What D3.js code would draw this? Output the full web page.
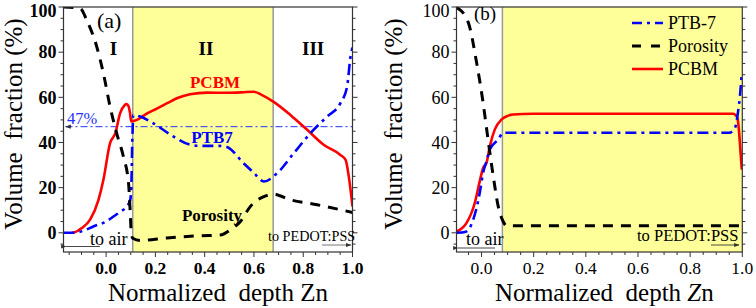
<!DOCTYPE html>
<html><head><meta charset="utf-8">
<script src="https://cdn.jsdelivr.net/npm/d3@7"></script>
<style>html,body{margin:0;padding:0;background:#fff}svg{display:block}
svg text{font-family:"Liberation Serif","Times New Roman",Times,"DejaVu Serif",serif;}</style>
</head><body>
<svg id="c" width="756" height="308"></svg>
<script>
// ---------- data ----------
const yTicks = [0, 20, 40, 60, 80, 100];
const xTicks = [0.0, 0.2, 0.4, 0.6, 0.8, 1.0];
const bandA = [0.108, 0.678];
const bandB = [0.08, 1.0];
const regionLabels = ["I", "II", "III"];
const regionZ = [0.03, 0.405, 0.84];

const aPcbmZ = [-0.14,-0.126,-0.1,-0.065,-0.031,-0.011,0.016,0.037,0.057,0.075,0.083,0.091,0.097,0.102,0.125,0.16,0.206,0.25,0.287,0.341,0.409,0.49,0.55,0.599,0.633,0.68,0.748,0.816,0.883,0.951,0.972,0.985,1.0];
const aPcbmV = [0,0.3,2,5.8,14.6,23.5,39.7,44,53,56.5,57,56,53,49.3,50,52.5,55,57.5,59.6,61.4,62.1,62,62.2,62.5,61,58,52.2,45.6,39,34.5,32.3,24.9,11.6];

const aPtbZ = [-0.173,-0.126,-0.09,-0.052,0.0,0.03,0.06,0.084,0.098,0.102,0.104,0.106,0.108,0.11,0.138,0.192,0.274,0.341,0.38,0.409,0.46,0.49,0.558,0.6,0.64,0.694,0.762,0.829,0.897,0.951,0.978,0.992,1.0];
const aPtbV = [0,0,1,2.8,5,7.2,9.5,11.6,14.6,20,28,40,47,52.2,51.5,48.5,42.6,39,38.5,38.5,38.5,38,30.8,26.5,22.7,26.4,35.3,44.1,51.5,57.4,64.7,78,82];

const aPorZ = [-0.173,-0.106,-0.078,-0.038,-0.011,0.016,0.043,0.07,0.091,0.098,0.102,0.108,0.138,0.247,0.382,0.463,0.504,0.545,0.585,0.64,0.68,0.748,0.857,1.0];
const aPorV = [100,99.4,94,82.4,70.6,55.9,44,33.8,22,8.7,0,-2.4,-3.4,-2.3,-1.3,-1,1.3,5,11.6,16,17,14.6,12.4,9];

const bPcbmZ = [-0.096,-0.075,-0.058,-0.026,-0.007,0.006,0.019,0.032,0.051,0.077,0.1,0.121,0.198,0.5,0.9,0.965,0.975,0.981,0.988,0.993,0.998];
const bPcbmV = [0.6,2,4.3,13.2,22.8,28.7,31,38.4,45.8,50.2,51.8,52.4,52.7,52.7,52.7,52.7,52,51,44.3,36,28];

const bPtbZ = [-0.096,-0.06,-0.032,-0.007,0.006,0.02,0.032,0.064,0.083,0.1,0.5,0.95,0.972,0.985,0.991,0.998];
const bPtbV = [0,0.5,5.8,17.6,26.5,32,37,41.3,44.3,44.3,44.3,44.3,46.5,54.8,60.6,71];

const bPorZ = [-0.096,-0.051,-0.019,0.006,0.025,0.045,0.064,0.083,0.096,0.12,1.0];
const bPorV = [99.9,93.2,75.4,57.6,41.3,25,11.7,5,3.1,3.1,3.1];

const refLevel = 47;
const legendNames = ["PTB-7", "Porosity", "PCBM"];

// ---------- drawing ----------
const svg = d3.select("#c");
const defs = svg.append("defs");
["al","ar"].forEach((id,i)=>{
  defs.append("marker").attr("id",id).attr("viewBox","0 0 10 10").attr("refX",i?9:1).attr("refY",5)
    .attr("markerWidth",6).attr("markerHeight",6).attr("orient","auto")
    .append("path").attr("d", i? "M0,1.5 L10,5 L0,8.5 Z" : "M10,1.5 L0,5 L10,8.5 Z").attr("fill","#333");
});

const styles = {
  ptb: {stroke:"#0000ff", w:2.6, dash:"11,5,3,5"},
  por: {stroke:"#000", w:3, dash:"10,8"},
  pcbm:{stroke:"#ff0000", w:2.6, dash:null}
};

function panel(cfg){
  const g = svg.append("g");
  const x = d3.scaleLinear().domain(cfg.xd).range([cfg.x0, cfg.x1]);
  const y = d3.scaleLinear().domain([-8.5, 100]).range([252, 7]);
  const clipId = "clip"+cfg.id;
  defs.append("clipPath").attr("id",clipId).append("rect")
    .attr("x",cfg.x0).attr("y",7).attr("width",cfg.x1-cfg.x0).attr("height",245);
  g.append("rect").attr("x",x(cfg.band[0])).attr("y",y(100)).attr("width",x(Math.min(cfg.band[1],cfg.xd[1]))-x(cfg.band[0]))
    .attr("height",y(-8.5)-y(100)).attr("fill","#ffff99");
  cfg.band.forEach(b=>{ if(b<cfg.xd[1]) g.append("line").attr("x1",x(b)).attr("x2",x(b)).attr("y1",y(100)).attr("y2",y(-8.5)).attr("stroke","#999").attr("stroke-width",1.5);});

  const plot = g.append("g").attr("clip-path",`url(#${clipId})`);
  if(cfg.ref!==undefined){
    plot.append("line").attr("x1",x(cfg.xd[0])+2).attr("x2",x(cfg.xd[1])).attr("y1",y(cfg.ref)).attr("y2",y(cfg.ref))
      .attr("stroke","#2233ff").attr("stroke-width",1).attr("stroke-dasharray","7,3,2,3").attr("marker-start","url(#al)");
  }
  const line = d3.line().x(d=>x(d[0])).y(d=>y(d[1])).curve(d3.curveMonotoneX);
  cfg.series.forEach(s=>{
    const st = styles[s.k];
    plot.append("path").datum(d3.zip(s.z, s.v)).attr("d",line).attr("fill","none")
      .attr("stroke",st.stroke).attr("stroke-width",st.w).attr("stroke-dasharray",st.dash)
      .attr("stroke-linejoin","round");
  });
  g.append("rect").attr("x",cfg.x0).attr("y",7).attr("width",cfg.x1-cfg.x0).attr("height",245)
    .attr("fill","none").attr("stroke","#333").attr("stroke-width",1.2);
  const fw = cfg.bold ? "bold" : "normal";
  d3.range(-5, 101, 5).forEach(v=>{
    const L = yTicks.includes(v)?5:3;
    g.append("line").attr("x1",cfg.x0-L).attr("x2",cfg.x0).attr("y1",y(v)).attr("y2",y(v)).attr("stroke","#333").attr("stroke-width",1);
    g.append("line").attr("x1",cfg.x1).attr("x2",cfg.x1+L).attr("y1",y(v)).attr("y2",y(v)).attr("stroke","#333").attr("stroke-width",1);
  });
  yTicks.forEach(v=>{
    g.append("text").attr("x",cfg.x0-7).attr("y",v===100?17:y(v)).attr("dy",v===100?null:"0.35em").attr("text-anchor","end")
      .attr("font-size",18).attr("font-weight",fw).text(v);
  });
  d3.range(-0.15, 1.001, 0.05).filter(v=>v>=cfg.xd[0]-1e-9).forEach(v=>{
    const maj = xTicks.some(t=>Math.abs(t-v)<1e-6);
    g.append("line").attr("x1",x(v)).attr("x2",x(v)).attr("y1",252).attr("y2",252+(maj?5:3)).attr("stroke","#333").attr("stroke-width",1);
  });
  xTicks.forEach(v=>{
    g.append("text").attr("x",x(v)).attr("y",274).attr("text-anchor","middle")
      .attr("font-size",17.5).attr("font-weight",fw).text(d3.format(".1f")(v));
  });
  g.append("text").attr("transform",`translate(${cfg.ytx},124) rotate(-90)`).attr("text-anchor","middle")
    .attr("font-size",25).attr("dy","0.35em").attr("xml:space","preserve")
    .text("Volume  fraction (%)");
  const xt = g.append("text").attr("x",(cfg.x0+cfg.x1)/2+cfg.xtOff).attr("y",301).attr("text-anchor","middle")
    .attr("font-size",25).attr("xml:space","preserve");
  xt.append("tspan").text("Normalized  depth ");
  xt.append("tspan").attr("font-style",cfg.italicZ?"italic":"normal").text("Z");
  xt.append("tspan").text("n");
  return {g,x,y};
}

const A = panel({id:"a", xd:[-0.173,1.0], x0:63.5, x1:352.5, band:bandA, bold:true, ytx:13, xtOff:10, italicZ:false,
  ref: refLevel,
  series:[{k:"pcbm",z:aPcbmZ,v:aPcbmV},{k:"ptb",z:aPtbZ,v:aPtbV},{k:"por",z:aPorZ,v:aPorV}]});
const B = panel({id:"b", xd:[-0.096,1.0], x0:456.5, x1:742.3, band:bandB, bold:false, ytx:393, xtOff:5, italicZ:true,
  series:[{k:"pcbm",z:bPcbmZ,v:bPcbmV},{k:"ptb",z:bPtbZ,v:bPtbV},{k:"por",z:bPorZ,v:bPorV}]});

function txt(g,x,y,s,o={}){
  return g.append("text").attr("x",x).attr("y",y).attr("font-size",o.size||16)
    .attr("font-weight",o.w||"normal").attr("fill",o.c||"#000").attr("text-anchor",o.a||"start").text(s);
}
txt(A.g,97,28,"(a)",{size:22});
regionLabels.forEach((r,i)=>txt(A.g,A.x(regionZ[i]),55,r,{size:19,w:"bold",a:"middle"}));
txt(A.g,215,88,"PCBM",{size:17,w:"bold",c:"#ff0000",a:"middle"});
txt(A.g,212,143,"PTB7",{size:17,w:"bold",c:"#0000ff",a:"middle"});
txt(A.g,212,221,"Porosity",{size:17,w:"bold",a:"middle"});
txt(A.g,67,124,"47%",{size:16.5,c:"#2233ff"});
txt(A.g,90,245,"to air",{size:18});
txt(A.g,268,241,"to PEDOT:PSS",{size:14.2});
A.g.append("line").attr("x1",100).attr("x2",66).attr("y1",246.5).attr("y2",246.5).attr("stroke","#333").attr("stroke-width",0.9).attr("marker-end","url(#al)");
A.g.append("line").attr("x1",322).attr("x2",351).attr("y1",245).attr("y2",245).attr("stroke","#777").attr("stroke-width",1).attr("marker-end","url(#ar)");

txt(B.g,474,20,"(b)",{size:19});
txt(B.g,466,245,"to air",{size:18});
txt(B.g,637,241,"to PEDOT:PSS",{size:16.5});
B.g.append("line").attr("x1",495).attr("x2",458).attr("y1",248).attr("y2",248).attr("stroke","#333").attr("stroke-width",0.9).attr("marker-end","url(#al)");
B.g.append("line").attr("x1",711).attr("x2",739).attr("y1",245).attr("y2",245).attr("stroke","#333").attr("stroke-width",0.9).attr("marker-end","url(#ar)");
const legKeys = ["ptb","por","pcbm"];
legendNames.forEach((n,i)=>{
  const yy = 23 + i*23;
  const st = styles[legKeys[i]];
  B.g.append("line").attr("x1",632).attr("x2",663).attr("y1",yy).attr("y2",yy).attr("stroke",st.stroke)
    .attr("stroke-width",st.w).attr("stroke-dasharray",legKeys[i]==="ptb"?"10,5,3,5":(legKeys[i]==="por"?"9,10":null));
  txt(B.g,668,yy,n,{size:18}).attr("dy","0.35em");
});
</script>
</body></html>
